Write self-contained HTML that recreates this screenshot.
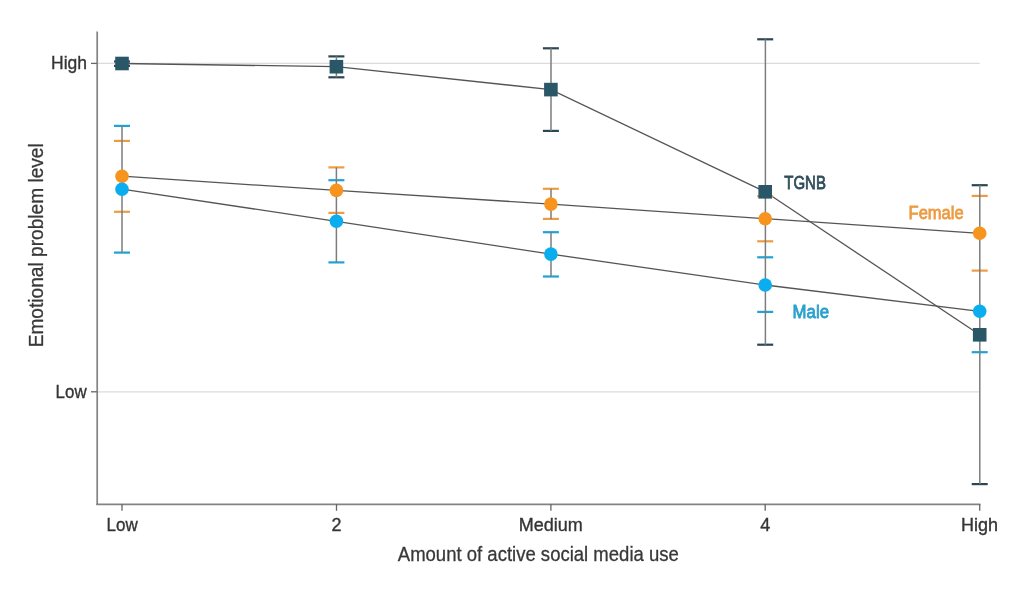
<!DOCTYPE html>
<html><head><meta charset="utf-8">
<style>
html,body{margin:0;padding:0;background:#fff;width:1024px;height:594px;overflow:hidden}
svg{display:block;will-change:transform}
text{font-family:"Liberation Sans",sans-serif}
</style></head>
<body>
<svg width="1024" height="594" viewBox="0 0 1024 594">
<rect width="1024" height="594" fill="#fff"/>
<!-- gridlines -->
<line x1="97" y1="63.4" x2="979.7" y2="63.4" stroke="#dcdcdc" stroke-width="1.2"/>
<line x1="97" y1="391.8" x2="979.7" y2="391.8" stroke="#dcdcdc" stroke-width="1.2"/>
<!-- axes -->
<line x1="97.2" y1="31.5" x2="97.2" y2="505.1" stroke="#838383" stroke-width="1.7"/>
<line x1="96.3" y1="504.3" x2="980.4" y2="504.3" stroke="#838383" stroke-width="1.7"/>
<!-- y ticks -->
<line x1="91" y1="63.4" x2="97" y2="63.4" stroke="#666" stroke-width="1.3"/>
<line x1="91" y1="391.8" x2="97" y2="391.8" stroke="#666" stroke-width="1.3"/>
<!-- x ticks -->
<g stroke="#666" stroke-width="1.3">
<line x1="122" y1="504" x2="122" y2="510.8"/>
<line x1="336.5" y1="504" x2="336.5" y2="510.8"/>
<line x1="550.9" y1="504" x2="550.9" y2="510.8"/>
<line x1="765.2" y1="504" x2="765.2" y2="510.8"/>
<line x1="979.7" y1="504" x2="979.7" y2="510.8"/>
</g>
<!-- tick labels -->
<g fill="#353535" stroke="#353535" stroke-width="0.35" font-size="18">
<text x="122.1" y="530.5" text-anchor="middle" textLength="31.2" lengthAdjust="spacingAndGlyphs">Low</text>
<text x="336.4" y="530.5" text-anchor="middle">2</text>
<text x="550.8" y="530.5" text-anchor="middle">Medium</text>
<text x="765.3" y="530.5" text-anchor="middle">4</text>
<text x="979.6" y="530.5" text-anchor="middle">High</text>
<text x="87" y="69.2" text-anchor="end" textLength="36" lengthAdjust="spacingAndGlyphs">High</text>
<text x="86.6" y="398" text-anchor="end" textLength="31" lengthAdjust="spacingAndGlyphs">Low</text>
</g>
<text x="538.3" y="561.4" text-anchor="middle" fill="#383838" stroke="#383838" stroke-width="0.3" font-size="20.5" textLength="281" lengthAdjust="spacingAndGlyphs">Amount of active social media use</text>
<text transform="translate(42.7,245.3) rotate(-90)" x="0" y="0" text-anchor="middle" fill="#383838" stroke="#383838" stroke-width="0.3" font-size="20.5" textLength="204" lengthAdjust="spacingAndGlyphs">Emotional problem level</text>

<!-- series lines -->
<g fill="none" stroke="#555" stroke-width="1.3">
<polyline points="122,63.5 336.4,66.7 550.9,89.6 765.2,191.8 979.7,334.8"/>
<polyline points="122,176.2 336.4,190.4 550.9,204.1 765.2,218.7 979.7,233.3"/>
<polyline points="122,189.2 336.4,221.3 550.9,254.1 765.2,285 979.7,311.3"/>
</g>
<!-- caps -->
<g stroke-width="2.2">
<g stroke="#ee9c42">
<line x1="114.0" y1="140.9" x2="130.0" y2="140.9"/><line x1="114.0" y1="211.8" x2="130.0" y2="211.8"/>
<line x1="328.4" y1="167.4" x2="344.4" y2="167.4"/><line x1="328.4" y1="212.9" x2="344.4" y2="212.9"/>
<line x1="542.9" y1="188.8" x2="558.9" y2="188.8"/><line x1="542.9" y1="218.9" x2="558.9" y2="218.9"/>
<line x1="757.2" y1="196.1" x2="773.2" y2="196.1"/><line x1="757.2" y1="241.3" x2="773.2" y2="241.3"/>
<line x1="971.7" y1="195.9" x2="987.7" y2="195.9"/><line x1="971.7" y1="270.6" x2="987.7" y2="270.6"/>
</g>
<g stroke="#1fa2d5">
<line x1="114.0" y1="125.9" x2="130.0" y2="125.9"/><line x1="114.0" y1="252.6" x2="130.0" y2="252.6"/>
<line x1="328.4" y1="180.2" x2="344.4" y2="180.2"/><line x1="328.4" y1="262.4" x2="344.4" y2="262.4"/>
<line x1="542.9" y1="232.2" x2="558.9" y2="232.2"/><line x1="542.9" y1="276.5" x2="558.9" y2="276.5"/>
<line x1="757.2" y1="257.3" x2="773.2" y2="257.3"/><line x1="757.2" y1="311.9" x2="773.2" y2="311.9"/>
<line x1="971.7" y1="352.2" x2="987.7" y2="352.2"/>
</g>
<g stroke="#2c4754">
<line x1="114.0" y1="61.5" x2="130.0" y2="61.5"/><line x1="114.0" y1="65.9" x2="130.0" y2="65.9"/>
<line x1="328.4" y1="56.4" x2="344.4" y2="56.4"/><line x1="328.4" y1="77.3" x2="344.4" y2="77.3"/>
<line x1="542.9" y1="48.3" x2="558.9" y2="48.3"/><line x1="542.9" y1="130.9" x2="558.9" y2="130.9"/>
<line x1="757.2" y1="39.3" x2="773.2" y2="39.3"/><line x1="757.2" y1="344.7" x2="773.2" y2="344.7"/>
<line x1="971.7" y1="185.2" x2="987.7" y2="185.2"/><line x1="971.7" y1="484.1" x2="987.7" y2="484.1"/>
</g>
</g>
<!-- error bar vertical lines -->
<g stroke="#7d7d7d" stroke-width="1.5">
<line x1="122" y1="61.5" x2="122" y2="65.9"/>
<line x1="122" y1="125.9" x2="122" y2="252.6"/>
<line x1="336.4" y1="56.4" x2="336.4" y2="77.3"/>
<line x1="336.4" y1="167.4" x2="336.4" y2="262.4"/>
<line x1="551" y1="48.3" x2="551" y2="130.9"/>
<line x1="551" y1="188.8" x2="551" y2="218.9"/>
<line x1="551" y1="232.2" x2="551" y2="276.5"/>
<line x1="765.4" y1="39.3" x2="765.4" y2="344.7"/>
<line x1="979.8" y1="185.2" x2="979.8" y2="484.1"/>
</g>
<!-- markers -->
<g fill="#f7941d">
<circle cx="122" cy="176.2" r="6.8"/>
<circle cx="336.4" cy="190.4" r="6.8"/>
<circle cx="550.9" cy="204.1" r="6.8"/>
<circle cx="765.2" cy="218.7" r="6.8"/>
<circle cx="979.7" cy="233.3" r="6.8"/>
</g>
<g fill="#0aaeef">
<circle cx="122" cy="189.2" r="6.8"/>
<circle cx="336.4" cy="221.3" r="6.8"/>
<circle cx="550.9" cy="254.1" r="6.8"/>
<circle cx="765.2" cy="285" r="6.8"/>
<circle cx="979.7" cy="311.3" r="6.8"/>
</g>
<g fill="#2a5767">
<rect x="115.2" y="56.7" width="13.6" height="13.6"/>
<rect x="329.6" y="59.9" width="13.6" height="13.6"/>
<rect x="544.1" y="82.8" width="13.6" height="13.6"/>
<rect x="758.4" y="185" width="13.6" height="13.6"/>
<rect x="972.9" y="328" width="13.6" height="13.6"/>
</g>
<!-- series labels -->
<g font-size="18.5" stroke-width="0.8" paint-order="stroke">
<text x="784.3" y="189.1" fill="#2f4d5a" stroke="#2f4d5a" textLength="41.6" lengthAdjust="spacingAndGlyphs">TGNB</text>
<text x="908.6" y="218.8" fill="#ec9c44" stroke="#ec9c44" textLength="55" lengthAdjust="spacingAndGlyphs">Female</text>
<text x="792.6" y="317.8" fill="#2aa0cd" stroke="#2aa0cd" textLength="36.4" lengthAdjust="spacingAndGlyphs">Male</text>
</g>
</svg>
</body></html>
